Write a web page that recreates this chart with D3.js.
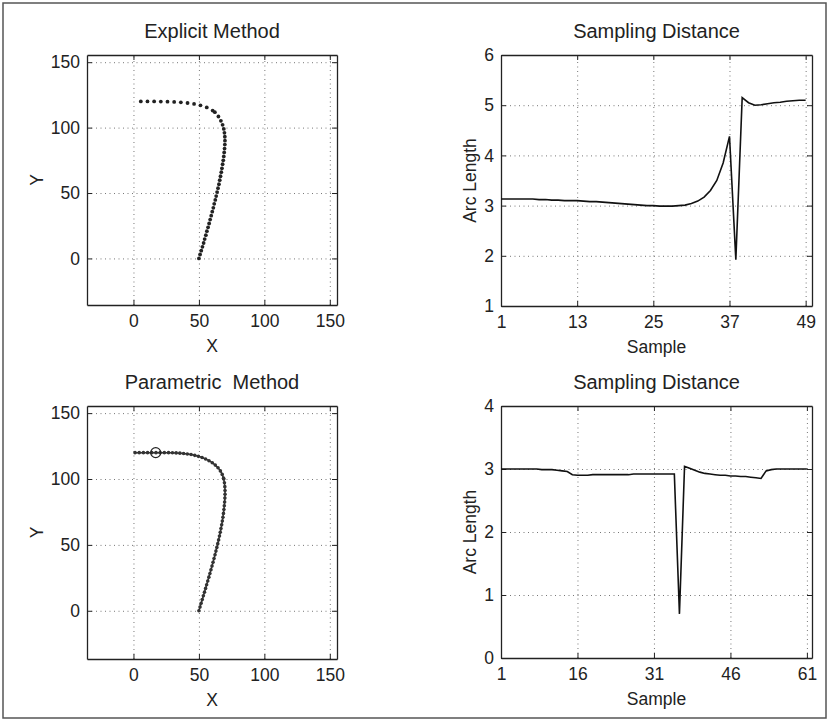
<!DOCTYPE html>
<html>
<head>
<meta charset="utf-8">
<script src="https://cdn.jsdelivr.net/npm/d3@7"></script>
<style>
body { margin: 0; background: #fff; }
text { font-family: "Liberation Sans", Arial, sans-serif; fill: #222; }
</style>
</head>
<body>
<svg width="830" height="722"></svg>
<script>
var svg = d3.select('svg')

// Explicit method: sampled points along the path
var explicitX = [50.0, 50.9, 51.8, 52.7, 53.6, 54.4, 55.3, 56.1, 57.0, 57.8,
	58.6, 59.4, 60.2, 61.0, 61.7, 62.5, 63.2, 63.9, 64.6, 65.3,
	65.9, 66.5, 67.1, 67.6, 68.1, 68.6, 69.0, 69.3, 69.6, 69.8,
	69.9, 69.8, 69.5, 69.0, 68.1, 66.8, 64.9, 62.2, 60.5, 56.0,
	51.2, 46.3, 41.3, 36.2, 31.1, 26.0, 20.9, 15.8, 10.7, 5.6]
var explicitY = [0.0, 3.0, 5.9, 8.9, 11.8, 14.8, 17.8, 20.8, 23.8, 26.7,
	29.7, 32.7, 35.7, 38.7, 41.7, 44.7, 47.7, 50.7, 53.7, 56.7,
	59.8, 62.8, 65.9, 68.9, 72.0, 75.0, 78.0, 81.0, 84.0, 87.0,
	90.0, 93.0, 96.0, 99.0, 102.1, 105.2, 108.5, 111.8, 113.0, 115.4,
	117.0, 118.1, 118.8, 119.3, 119.6, 119.8, 119.9, 120.0, 120.0, 120.0]

// Parametric method: sampled points along the path
var paramX = [50.0, 50.85, 51.7, 52.55, 53.4, 54.25, 55.1, 55.9, 56.75, 57.6,
	58.4, 59.2, 60.0, 60.8, 61.55, 62.3, 63.0, 63.7, 64.4, 65.05,
	65.7, 66.3, 66.85, 67.4, 67.9, 68.35, 68.75, 69.1, 69.4, 69.65,
	69.85, 69.95, 69.95, 69.8, 69.5, 69.0, 68.8, 67.8, 66.4, 64.6,
	62.5, 60.2, 57.7, 55.1, 52.4, 49.6, 46.8, 44.0, 41.15, 38.3,
	35.45, 32.6, 29.75, 26.8, 23.6, 20.4, 17.2, 14.0, 10.8, 7.6,
	4.4, 1.2]
var paramY = [0.0, 2.83, 5.66, 8.49, 11.32, 14.15, 16.98, 19.8, 22.65, 25.5,
	28.3, 31.15, 34.0, 36.85, 39.7, 42.5, 45.3, 48.1, 50.95, 53.8,
	56.65, 59.5, 62.35, 65.2, 68.1, 71.0, 73.9, 76.8, 79.7, 82.6,
	85.5, 88.4, 91.3, 94.2, 97.1, 100.0, 100.65, 103.5, 106.15, 108.5,
	110.55, 112.35, 113.9, 115.2, 116.3, 117.2, 117.95, 118.55, 119.0, 119.35,
	119.6, 119.8, 119.9, 120.0, 120.0, 120.0, 120.0, 120.0, 120.0, 120.0,
	120.0, 120.0]
var paramMarker = [17, 120]

// Arc length between consecutive samples
var explicitArc = [3.13, 3.13, 3.13, 3.13, 3.13, 3.13, 3.12, 3.12, 3.11, 3.11,
	3.10, 3.10, 3.10, 3.09, 3.08, 3.08, 3.07, 3.06, 3.05, 3.04,
	3.03, 3.02, 3.01, 3.00, 3.00, 2.99, 2.99, 2.99, 3.00, 3.01,
	3.04, 3.09, 3.17, 3.30, 3.50, 3.85, 4.38, 1.92, 5.15, 5.05,
	5.00, 5.01, 5.03, 5.05, 5.06, 5.08, 5.09, 5.10, 5.10]
var paramArc = [3.00, 3.00, 3.00, 3.00, 3.00, 3.00, 3.00, 3.00, 2.99, 2.99,
	2.99, 2.98, 2.97, 2.96, 2.91, 2.90, 2.90, 2.90, 2.91, 2.91,
	2.91, 2.91, 2.91, 2.91, 2.91, 2.91, 2.92, 2.92, 2.92, 2.92,
	2.92, 2.92, 2.92, 2.92, 2.92, 0.70, 3.04, 3.01, 2.98, 2.95,
	2.93, 2.92, 2.91, 2.90, 2.90, 2.89, 2.89, 2.88, 2.88, 2.87,
	2.86, 2.85, 2.97, 2.99, 3.00, 3.00, 3.00, 3.00, 3.00, 3.00,
	3.00]

var xyTicks = [0, 50, 100, 150]
var explicitSampleTicks = [1, 13, 25, 37, 49]
var paramSampleTicks = [1, 16, 31, 46, 61]
var explicitArcTicks = [1, 2, 3, 4, 5, 6]
var paramArcTicks = [0, 1, 2, 3, 4]

var fontSize = 17.5

//Outer frame round the figure
svg.append('rect')
	.attr('x', 3).attr('y', 3)
	.attr('width', 823).attr('height', 715)
	.attr('fill', 'none')
	.attr('stroke', '#555')
	.attr('stroke-width', 1.5)

// builds one set of axes, returns the group and scales
function makePanel(opt) {
	var g = svg.append('g').attr('transform', 'translate(' + opt.left + ',' + opt.top + ')')
	var w = opt.width, h = opt.height
	var x = d3.scaleLinear().domain(opt.xDomain).range([0, w])
	var y = d3.scaleLinear().domain(opt.yDomain).range([h, 0])
	var fmt = d3.format('d')

	//dotted grid
	g.append('g').attr('class', 'grid')
		.attr('transform', 'translate(0,' + h + ')')
		.call(d3.axisBottom(x).tickValues(opt.xTicks).tickSize(-h).tickFormat(''))
	g.append('g').attr('class', 'grid')
		.call(d3.axisLeft(y).tickValues(opt.yTicks).tickSize(-w).tickFormat(''))
	g.selectAll('.grid .domain').remove()
	g.selectAll('.grid line')
		.attr('stroke', '#777')
		.attr('stroke-width', 1)
		.attr('stroke-dasharray', '1,3.5')

	//axes with inward ticks
	var bottom = g.append('g').attr('class', 'ax').attr('transform', 'translate(0,' + h + ')')
		.call(d3.axisBottom(x).tickValues(opt.xTicks).tickFormat(fmt).tickSizeInner(-5).tickSizeOuter(0).tickPadding(10))
	var left = g.append('g').attr('class', 'ax')
		.call(d3.axisLeft(y).tickValues(opt.yTicks).tickFormat(fmt).tickSizeInner(-5).tickSizeOuter(0).tickPadding(7))
	g.append('g').attr('class', 'ax')
		.call(d3.axisTop(x).tickValues(opt.xTicks).tickSizeInner(-5).tickSizeOuter(0).tickFormat(''))
	g.append('g').attr('class', 'ax').attr('transform', 'translate(' + w + ',0)')
		.call(d3.axisRight(y).tickValues(opt.yTicks).tickSizeInner(-5).tickSizeOuter(0).tickFormat(''))
	g.selectAll('.ax .domain').attr('stroke', '#222').attr('stroke-width', 1.3)
	g.selectAll('.ax .tick line').attr('stroke', '#222')
	bottom.selectAll('text').attr('font-size', fontSize).attr('font-family', null)
	left.selectAll('text').attr('font-size', fontSize).attr('font-family', null)

	//title and labels
	g.append('text')
		.attr('x', w / 2).attr('y', -17)
		.attr('text-anchor', 'middle')
		.attr('font-size', 20)
		.style('white-space', 'pre')
		.text(opt.title)
	g.append('text')
		.attr('x', w / 2).attr('y', h + 47)
		.attr('text-anchor', 'middle')
		.attr('font-size', fontSize)
		.text(opt.xLabel)
	g.append('text')
		.attr('transform', 'translate(' + opt.yLabelX + ',' + (h / 2) + ') rotate(-90)')
		.attr('text-anchor', 'middle')
		.attr('font-size', fontSize)
		.text(opt.yLabel)

	return {g: g, x: x, y: y}
}

var xyDomain = [-35.5, 155.5]

// top left: explicit method
var p1 = makePanel({left: 87, top: 55, width: 250, height: 250,
	xDomain: xyDomain, yDomain: [-35.6, 155.5], xTicks: xyTicks, yTicks: xyTicks,
	title: 'Explicit Method', xLabel: 'X', yLabel: 'Y', yLabelX: -44})
p1.g.append('g').selectAll('circle')
	.data(d3.range(explicitX.length))
	.enter().append('circle')
	.attr('cx', function(i) { return p1.x(explicitX[i]) })
	.attr('cy', function(i) { return p1.y(explicitY[i]) })
	.attr('r', 1.9)
	.attr('fill', '#222')

// top right: explicit sampling distance
var p2 = makePanel({left: 501, top: 55, width: 311, height: 251,
	xDomain: [1, 50], yDomain: [1, 6], xTicks: explicitSampleTicks, yTicks: explicitArcTicks,
	title: 'Sampling Distance', xLabel: 'Sample', yLabel: 'Arc Length', yLabelX: -25})
p2.g.append('path')
	.datum(explicitArc)
	.attr('fill', 'none')
	.attr('stroke', '#111')
	.attr('stroke-width', 1.6)
	.attr('d', d3.line().x(function(d, i) { return p2.x(i + 1) }).y(function(d) { return p2.y(d) }))

// bottom left: parametric method
var p3 = makePanel({left: 87, top: 406, width: 250, height: 253,
	xDomain: xyDomain, yDomain: [-36.6, 155.4], xTicks: xyTicks, yTicks: xyTicks,
	title: 'Parametric  Method', xLabel: 'X', yLabel: 'Y', yLabelX: -44})
p3.g.append('path')
	.datum(d3.range(paramX.length))
	.attr('fill', 'none')
	.attr('stroke', '#333')
	.attr('stroke-width', 1.5)
	.attr('d', d3.line().x(function(i) { return p3.x(paramX[i]) }).y(function(i) { return p3.y(paramY[i]) }))
p3.g.append('g').selectAll('circle')
	.data(d3.range(paramX.length))
	.enter().append('circle')
	.attr('cx', function(i) { return p3.x(paramX[i]) })
	.attr('cy', function(i) { return p3.y(paramY[i]) })
	.attr('r', 1.8)
	.attr('fill', '#333')
p3.g.append('circle')
	.attr('cx', p3.x(paramMarker[0]))
	.attr('cy', p3.y(paramMarker[1]))
	.attr('r', 5)
	.attr('fill', 'none')
	.attr('stroke', '#222')
	.attr('stroke-width', 1.2)

// bottom right: parametric sampling distance
var p4 = makePanel({left: 501, top: 406, width: 311, height: 252,
	xDomain: [1, 62], yDomain: [0, 4], xTicks: paramSampleTicks, yTicks: paramArcTicks,
	title: 'Sampling Distance', xLabel: 'Sample', yLabel: 'Arc Length', yLabelX: -25})
p4.g.append('path')
	.datum(paramArc)
	.attr('fill', 'none')
	.attr('stroke', '#111')
	.attr('stroke-width', 1.6)
	.attr('d', d3.line().x(function(d, i) { return p4.x(i + 1) }).y(function(d) { return p4.y(d) }))
</script>
</body>
</html>
